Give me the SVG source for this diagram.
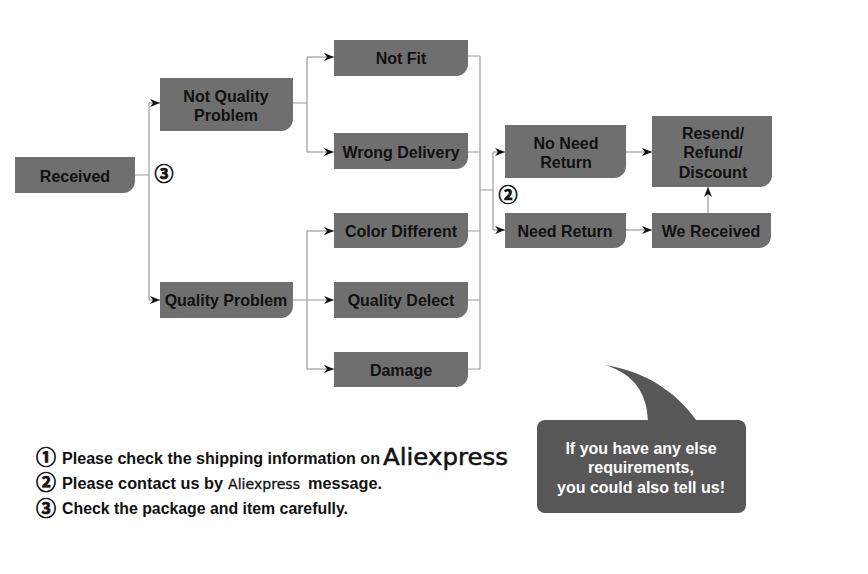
<svg xmlns="http://www.w3.org/2000/svg" width="868" height="574" viewBox="0 0 868 574">
<defs>
<style>
.box{fill:#6f6f6f;}
.lbl{font-family:"Liberation Sans",Arial,sans-serif;font-weight:bold;font-size:16px;fill:#111;text-anchor:middle;}
.ln{fill:none;stroke:#9c9c9c;stroke-width:1.2;}
.ar{marker-end:url(#arr);}
.num{font-family:"Noto Sans CJK SC","DejaVu Sans",sans-serif;font-weight:bold;fill:#111;stroke:#111;stroke-width:0.7;text-anchor:middle;}
.note{font-family:"Liberation Sans",Arial,sans-serif;font-weight:bold;font-size:16px;fill:#111;}
.ali{font-family:"DejaVu Sans",Verdana,sans-serif;fill:#111;stroke:#111;}
.bub{font-family:"Liberation Sans",Arial,sans-serif;font-weight:bold;font-size:16px;fill:#fff;text-anchor:middle;}
</style>
<marker id="arr" viewBox="0 0 10 8" refX="10" refY="4" markerWidth="10" markerHeight="8" orient="auto" markerUnits="userSpaceOnUse">
<path d="M0,0 L10,4 L0,8 L3,4 z" fill="#111"/>
</marker>
</defs>
<rect width="868" height="574" fill="#fff"/>

<g id="connectors">
<path class="ln" d="M135,175 H149 M149,103 V300"/>
<path class="ln ar" d="M149,103 H160"/>
<path class="ln ar" d="M149,300 H160"/>
<path class="ln" d="M293,103 H307 M307,57 V152"/>
<path class="ln ar" d="M307,57 H334"/>
<path class="ln ar" d="M307,152 H334"/>
<path class="ln ar" d="M293,300 H334"/>
<path class="ln" d="M307,231 V369"/>
<path class="ln ar" d="M307,231 H334"/>
<path class="ln ar" d="M307,369 H334"/>
<path class="ln" d="M468,56 H480 M468,152 H480 M468,231 H480 M468,300 H480 M468,369 H480 M480,56 V369"/>
<path class="ln" d="M480,190 H493 M493,152 V230"/>
<path class="ln ar" d="M493,152 H505"/>
<path class="ln ar" d="M493,230 H505"/>
<path class="ln ar" d="M626,152 H652"/>
<path class="ln ar" d="M626,230 H652"/>
<path class="ln ar" d="M708,213 V187"/>
</g>

<g id="received">
<path class="box" d="M15,157 H135 V181 A12,12 0 0 1 123,193 H15 Z"/>
<text class="lbl" x="75" y="182">Received</text>
</g>
<g id="not-quality-problem">
<path class="box" d="M160,78 H293 V119 A12,12 0 0 1 281,131 H160 Z"/>
<text class="lbl" x="226" y="102">Not Quality</text>
<text class="lbl" x="226" y="121">Problem</text>
</g>
<g id="quality-problem">
<path class="box" d="M160,282 H293 V306 A12,12 0 0 1 281,318 H160 Z"/>
<text class="lbl" x="226" y="306">Quality Problem</text>
</g>
<g id="not-fit">
<path class="box" d="M334,40 H468 V64 A12,12 0 0 1 456,76 H334 Z"/>
<text class="lbl" x="401" y="64">Not Fit</text>
</g>
<g id="wrong-delivery">
<path class="box" d="M334,133 H468 V157 A12,12 0 0 1 456,169 H334 Z"/>
<text class="lbl" x="401" y="158">Wrong Delivery</text>
</g>
<g id="color-different">
<path class="box" d="M334,213 H468 V236 A12,12 0 0 1 456,248 H334 Z"/>
<text class="lbl" x="401" y="237">Color Different</text>
</g>
<g id="quality-delect">
<path class="box" d="M334,282 H468 V306 A12,12 0 0 1 456,318 H334 Z"/>
<text class="lbl" x="401" y="306">Quality Delect</text>
</g>
<g id="damage">
<path class="box" d="M334,352 H468 V375 A12,12 0 0 1 456,387 H334 Z"/>
<text class="lbl" x="401" y="376">Damage</text>
</g>
<g id="no-need-return">
<path class="box" d="M505,125 H626 V166 A12,12 0 0 1 614,178 H505 Z"/>
<text class="lbl" x="566" y="149">No Need</text>
<text class="lbl" x="566" y="168">Return</text>
</g>
<g id="need-return">
<path class="box" d="M505,213 H626 V236 A12,12 0 0 1 614,248 H505 Z"/>
<text class="lbl" x="565" y="237">Need Return</text>
</g>
<g id="resend">
<path class="box" d="M652,116 H772 V175 A12,12 0 0 1 760,187 H652 Z"/>
<text class="lbl" x="713" y="139">Resend/</text>
<text class="lbl" x="713" y="158">Refund/</text>
<text class="lbl" x="713" y="178">Discount</text>
</g>
<g id="we-received">
<path class="box" d="M652,213 H771 V236 A12,12 0 0 1 759,248 H652 Z"/>
<text class="lbl" x="711" y="237">We Received</text>
</g>

<g id="step-marks">
<text class="num" x="164" y="181" font-size="19">③</text>
<text class="num" x="508" y="202" font-size="19">②</text>
</g>

<g id="notes">
<text class="num" x="46" y="465" font-size="20">①</text>
<text class="num" x="46" y="490" font-size="20">②</text>
<text class="num" x="46" y="516" font-size="20">③</text>
<text class="note" x="62" y="464" textLength="318" lengthAdjust="spacingAndGlyphs">Please check the shipping information on</text>
<text class="ali" x="383" y="465" font-size="23" stroke-width="0.5" textLength="125" lengthAdjust="spacingAndGlyphs">Aliexpress</text>
<text class="note" x="62" y="489" textLength="161" lengthAdjust="spacingAndGlyphs">Please contact us by</text>
<text class="ali" x="228" y="489" font-size="13.5" stroke-width="0.3" textLength="72" lengthAdjust="spacingAndGlyphs">Aliexpress</text>
<text class="note" x="308" y="489" textLength="74" lengthAdjust="spacingAndGlyphs">message.</text>
<text class="note" x="62" y="514" textLength="286" lengthAdjust="spacingAndGlyphs">Check the package and item carefully.</text>
</g>

<g id="bubble">
<path d="M605,365 C635,374 648,395 648,424 L699,424 C680,396 650,372 605,365 Z" fill="#575757"/>
<rect x="537" y="420" width="209" height="93" rx="8" fill="#575757"/>
<text class="bub" x="641" y="454">If you have any else</text>
<text class="bub" x="641" y="473">requirements,</text>
<text class="bub" x="641" y="493">you could also tell us!</text>
</g>
</svg>
